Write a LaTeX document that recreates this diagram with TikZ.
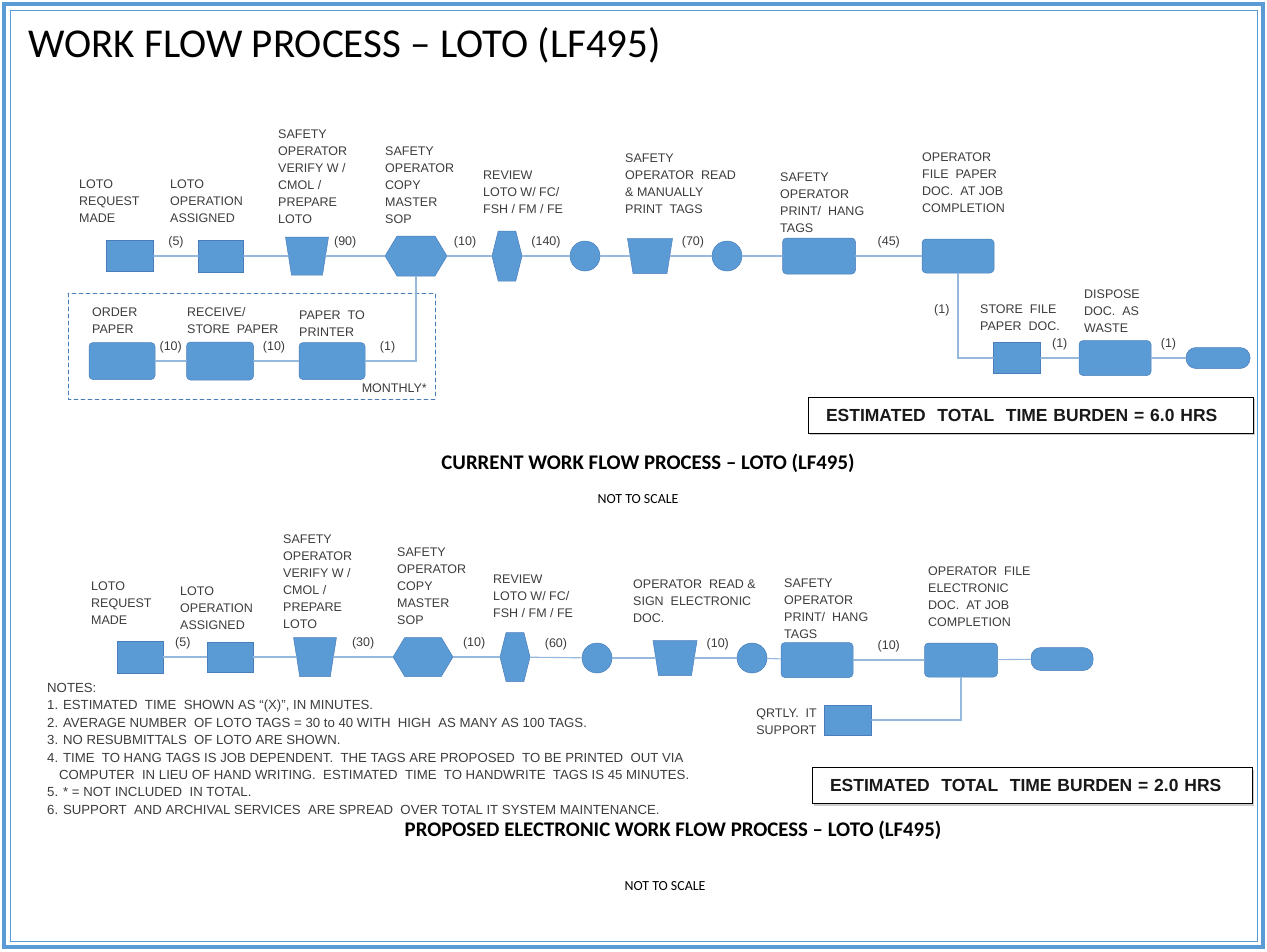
\documentclass[tikz,border=0pt]{standalone}
\usepackage{fontspec}
\setmainfont{Liberation Sans}
\newfontfamily\califont{Carlito}
\usetikzlibrary{shapes.geometric,shapes.symbols,shadows}
\definecolor{boxblue}{HTML}{5B9BD5}
\definecolor{boxedge}{HTML}{4A7EBB}
\definecolor{linkblue}{HTML}{95B8DC}
\definecolor{textgray}{HTML}{3C3C3C}
\definecolor{frameblue}{HTML}{5B9BD5}

\begin{document}
\begin{tikzpicture}[x=1pt,y=-1pt,line cap=round,
		shp/.style={draw=boxedge,fill=boxblue,line width=0.5pt,inner sep=0},
		blk/.style 2 args={shp,rectangle,minimum width=#1,minimum height=#2},
		rblk/.style 2 args={shp,rectangle,rounded corners=4,minimum width=#1,minimum height=#2},
		trap/.style 2 args={shp,trapezium,shape border rotate=180,trapezium left angle=81,trapezium right angle=81,inner xsep=#1,inner ysep=#2},
		hexa/.style 2 args={shp,signal,signal to=east and west,signal pointer angle=118,minimum width=#1,minimum height=#2},
		barrel/.style 2 args={shp,signal,signal to=east and west,signal pointer angle=152,minimum width=#1,minimum height=#2},
		disk/.style={shp,circle,minimum size=#1},
		term/.style 2 args={shp,rectangle,rounded corners=10,minimum width=#1,minimum height=#2},
		lab/.style={font=\fontsize{12.5}{17}\selectfont,text=textgray,align=left,anchor=north west,inner sep=0},
		tm/.style={font=\fontsize{12.5}{15}\selectfont,text=textgray,inner sep=0},
		elab/.style={tm,above=7pt},
		link/.style={draw=linkblue,line width=1.1pt},
		head/.style={font=\califont\bfseries\fontsize{20.8}{24}\selectfont,anchor=base,inner sep=0},
		nts/.style={font=\califont\fontsize{13.9}{16}\selectfont,anchor=base,inner sep=0},
		tot/.style={draw=black,line width=1pt,fill=white,drop shadow={shadow xshift=2pt,shadow yshift=-2pt,fill=black!40},font=\bfseries\fontsize{17.5}{20}\selectfont,text=black!90,align=left,inner ysep=0,inner xsep=18pt,minimum height=36}]
	\useasboundingbox (0,0) rectangle (1267,951);
	% page frame
	\draw[frameblue,line width=4] (4,4) rectangle (1263,947);
	\draw[frameblue,line width=1] (10,10) rectangle (1257,941);
	\node[font=\califont\fontsize{41}{48}\selectfont,anchor=base west,inner sep=0] (title) at (28,57) {WORK FLOW PROCESS – LOTO (LF495)};

	% current process
	\node[blk={47}{31}] (00) at (130,256) {};
	\node[blk={45}{32}] (01) at (221,256) {};
	\node[trap={15.5}{19}] (02) at (307,256) {};
	\node[hexa={62}{40}] (03) at (416,256) {};
	\node[barrel={30}{50}] (04) at (507,256) {};
	\node[disk=30] (05) at (585,256) {};
	\node[trap={17}{17.5}] (06) at (650,256) {};
	\node[disk=30] (07) at (727,256) {};
	\node[rblk={73}{36}] (08) at (819,256) {};
	\node[rblk={72}{34}] (09) at (958,256) {};
	\node[lab] (t00) at (79,180) {LOTO\\REQUEST\\MADE};
	\node[lab] (t01) at (170,180) {LOTO\\OPERATION\\ASSIGNED};
	\node[lab] (t02) at (278,130) {SAFETY\\OPERATOR\\VERIFY W /\\CMOL /\\PREPARE\\LOTO};
	\node[lab] (t03) at (385,147) {SAFETY\\OPERATOR\\COPY\\MASTER\\SOP};
	\node[lab] (t04) at (483,171) {REVIEW\\LOTO W/ FC/\\FSH / FM / FE};
	\node[lab] (t06) at (625,154) {SAFETY\\OPERATOR~ READ\\\& MANUALLY\\PRINT~ TAGS};
	\node[lab] (t08) at (780,173) {SAFETY\\OPERATOR\\PRINT/~ HANG\\TAGS};
	\node[lab] (t09) at (922,153) {OPERATOR\\FILE~ PAPER\\DOC.~ AT JOB\\COMPLETION};
	\draw[link] (00) -- node[elab,pos=.5] (e00) {(5)} (01);
	\draw[link] (01) -- (02);
	\draw[link] (02) -- node[elab,pos=.33] (e02) {(90)} (03);
	\draw[link] (03) -- node[elab,pos=.4] (e03) {(10)} (04);
	\draw[link] (04) -- node[elab,pos=.5] (e04) {(140)} (05);
	\draw[link] (05) -- (06);
	\draw[link] (06) -- node[elab,pos=.55] (e06) {(70)} (07);
	\draw[link] (07) -- (08);
	\draw[link] (08) -- node[elab,pos=.5] (e08) {(45)} (09);

	% monthly paper supply
	\draw[boxedge,line width=0.8,dash pattern=on 4pt off 3pt] (68,293) rectangle (435,399);
	\node[rblk={66}{37}] (10) at (122,361) {};
	\node[rblk={67}{38}] (11) at (220,361) {};
	\node[rblk={66}{37}] (12) at (332,361) {};
	\node[lab] (t10) at (92,308) {ORDER\\PAPER};
	\node[lab] (t11) at (187,307) {RECEIVE/\\STORE~ PAPER};
	\node[lab] (t12) at (299,311) {PAPER~ TO\\PRINTER};
	\node[tm,anchor=base east] (t13) at (427,392) {MONTHLY*};
	\draw[link] (10) -- node[elab,pos=.5] (e10) {(10)} (11);
	\draw[link] (11) -- node[elab,pos=.45] (e11) {(10)} (12);
	\draw[link] (12) -| node[elab,pos=.22] (e12) {(1)} (03);

	% filing and disposal
	\node[blk={47}{31}] (20) at (1017,358) {};
	\node[rblk={72}{35}] (21) at (1115,358) {};
	\node[term={64}{21}] (22) at (1218,358) {};
	\node[lab] (t20) at (980,305) {STORE~ FILE\\PAPER~ DOC.};
	\node[lab] (t21) at (1084,290) {DISPOSE\\DOC.~ AS\\WASTE};
	\draw[link] (09) |- node[tm,left=8pt,pos=.22] (e09) {(1)} (20);
	\draw[link] (20) -- node[elab,pos=.5] (e20) {(1)} (21);
	\draw[link] (21) -- node[elab,pos=.5] (e21) {(1)} (22);
	\node[tot,text width=409] (sum0) at (1030.5,415) {ESTIMATED~ TOTAL~ TIME BURDEN = 6.0 HRS};

	\node[head] (head0) at (648,469) {CURRENT WORK FLOW PROCESS – LOTO (LF495)};
	\node[nts] (scale0) at (638,503) {NOT TO SCALE};

	% proposed process
	\node[blk={46}{32}] (30) at (140,657) {};
	\node[blk={46}{30}] (31) at (230,657) {};
	\node[trap={15.3}{19.5}] (32) at (315,657) {};
	\node[hexa={60}{39}] (33) at (423,657) {};
	\node[barrel={30}{49}] (34) at (515,657) {};
	\node[disk=30] (35) at (597,658) {};
	\node[trap={16.5}{17.5}] (36) at (675,658) {};
	\node[disk=30] (37) at (752,658) {};
	\node[rblk={72}{35}] (38) at (817,660) {};
	\node[rblk={73}{34}] (39) at (961,660) {};
	\node[term={62}{23}] (40) at (1062,659) {};
	\node[blk={47}{30}] (41) at (848,720) {};
	\node[lab] (t30) at (91,582) {LOTO\\REQUEST\\MADE};
	\node[lab] (t31) at (180,587) {LOTO\\OPERATION\\ASSIGNED};
	\node[lab] (t32) at (283,535) {SAFETY\\OPERATOR\\VERIFY W /\\CMOL /\\PREPARE\\LOTO};
	\node[lab] (t33) at (397,548) {SAFETY\\OPERATOR\\COPY\\MASTER\\SOP};
	\node[lab] (t34) at (493,575) {REVIEW\\LOTO W/ FC/\\FSH / FM / FE};
	\node[lab] (t36) at (633,580) {OPERATOR~ READ \&\\SIGN~ ELECTRONIC\\DOC.};
	\node[lab] (t38) at (784,579) {SAFETY\\OPERATOR\\PRINT/~ HANG\\TAGS};
	\node[lab] (t39) at (928,567) {OPERATOR~ FILE\\ELECTRONIC\\DOC.~ AT JOB\\COMPLETION};
	\node[lab,anchor=north east] (t41) at (817,709) {QRTLY.~ IT\\SUPPORT};
	\draw[link] (30) -- node[elab,pos=.45] (e30) {(5)} (31);
	\draw[link] (31) -- (32);
	\draw[link] (32) -- node[elab,pos=.5] (e32) {(30)} (33);
	\draw[link] (33) -- node[elab,pos=.45] (e33) {(10)} (34);
	\draw[link] (34) -- node[elab,pos=.5] (e34) {(60)} (35);
	\draw[link] (35) -- (36);
	\draw[link] (36) -- node[elab,pos=.55] (e36) {(10)} (37);
	\draw[link] (37) -- (38);
	\draw[link] (38) -- node[elab,pos=.5] (e38) {(10)} (39);
	\draw[link] (39) -- (40);
	\draw[link] (39) |- (41);
	\node[tot,text width=404] (sum1) at (1032,785.5) {ESTIMATED~ TOTAL~ TIME BURDEN = 2.0 HRS};

	\node[font=\fontsize{13.2}{17.4}\selectfont,text=textgray,align=left,anchor=north west,inner sep=0] (notes) at (47,683) {NOTES:\\
		1. ESTIMATED~ TIME~ SHOWN AS “(X)”, IN MINUTES.\\
		2. AVERAGE NUMBER~ OF LOTO TAGS = 30 to 40 WITH~ HIGH~ AS MANY AS 100 TAGS.\\
		3. NO RESUBMITTALS~ OF LOTO ARE SHOWN.\\
		4. TIME~ TO HANG TAGS IS JOB DEPENDENT.~ THE TAGS ARE PROPOSED~ TO BE PRINTED~ OUT VIA\\
		\hspace*{12pt}COMPUTER~ IN LIEU OF HAND WRITING.~ ESTIMATED~ TIME~ TO HANDWRITE~ TAGS IS 45 MINUTES.\\
		5. * = NOT INCLUDED~ IN TOTAL.\\
		6. SUPPORT~ AND ARCHIVAL SERVICES~ ARE SPREAD~ OVER TOTAL IT SYSTEM MAINTENANCE.};

	\node[head] (head1) at (673,836) {PROPOSED ELECTRONIC WORK FLOW PROCESS – LOTO (LF495)};
	\node[nts] (scale1) at (665,890) {NOT TO SCALE};
\end{tikzpicture}
\end{document}
